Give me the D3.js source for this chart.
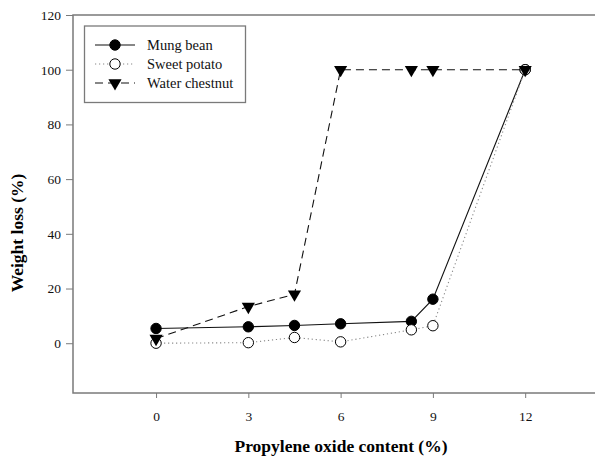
<!DOCTYPE html>
<html>
<head>
<meta charset="utf-8">
<script src="https://cdn.jsdelivr.net/npm/d3@7"></script>
<style>
  body { margin: 0; background: #fff; }
  svg { display: block; }
  svg text { font-family: "Liberation Serif", "Times New Roman", "DejaVu Serif", serif !important; }
</style>
</head>
<body>
<svg width="595" height="459"></svg>
<script>
// propylene oxide content (%)
const xValues = [0, 3, 4.5, 6, 8.3, 9, 12];
const mungBean = [5.4, 6.0, 6.5, 7.1, 8.0, 16.1, 100];
const sweetPotato = [0, 0.2, 2.1, 0.5, 4.9, 6.4, 100];
const waterChestnut = [1.7, 13.4, 17.9, 100, 100, 100, 100];
const seriesNames = ['Mung bean', 'Sweet potato', 'Water chestnut'];
const xTicks = [0, 3, 6, 9, 12];
const yTicks = [0, 20, 40, 60, 80, 100, 120];

const svg = d3.select('svg');
const [plotLeft, plotTop, plotBottom] = [73, 15, 393];

const x = d3.scaleLinear().domain([-2.7, 14.27]).range([plotLeft, 595]);
const y = d3.scaleLinear().domain([-18.2, 120]).range([plotBottom, plotTop]);

const axisColor = '#7a7a7a';

// frame (right side runs off the picture)
svg.append('rect')
  .attr('x', plotLeft).attr('y', plotTop)
  .attr('width', 540).attr('height', plotBottom - plotTop)
  .attr('fill', 'none')
  .attr('stroke', axisColor)
  .attr('stroke-width', 1.5);

const yAxis = svg.append('g')
  .attr('transform', `translate(${plotLeft},0)`)
  .call(d3.axisLeft(y).tickValues(yTicks).tickSize(7).tickSizeOuter(0).tickPadding(5));
const xAxis = svg.append('g')
  .attr('transform', `translate(0,${plotBottom})`)
  .call(d3.axisBottom(x).tickValues(xTicks).tickSize(5).tickSizeOuter(0).tickPadding(13));

[xAxis, yAxis].forEach(a => {
  a.select('.domain').remove();
  a.attr('font-family', null);
  a.selectAll('line').attr('stroke', axisColor);
  a.selectAll('text')
    .attr('fill', '#111')
    .style('font-size', '13.5px');
});

// axis titles
svg.append('text')
  .attr('x', 341).attr('y', 452)
  .attr('text-anchor', 'middle')
  .style('font-weight', 'bold')
  .style('font-size', '17.5px')
  .text('Propylene oxide content (%)');

svg.append('text')
  .attr('transform', 'translate(23,233) rotate(-90)')
  .attr('text-anchor', 'middle')
  .style('font-weight', 'bold')
  .style('font-size', '17.5px')
  .text('Weight loss (%)');

const styles = [
  { data: mungBean, stroke: '#111', dash: null, marker: 'circle', fill: '#000' },
  { data: sweetPotato, stroke: '#888', dash: '1.2,2.8', marker: 'circle', fill: '#fff' },
  { data: waterChestnut, stroke: '#111', dash: '8,5', marker: 'triangle', fill: '#000' }
];

const line = d3.line()
  .x((d, i) => x(xValues[i]))
  .y(d => y(d));

styles.forEach(s => {
  svg.append('path')
    .datum(s.data)
    .attr('d', line)
    .attr('fill', 'none')
    .attr('stroke', s.stroke)
    .attr('stroke-width', 1.1)
    .attr('stroke-dasharray', s.dash);
});

const triSym = d3.symbol().type(d3.symbolTriangle).size(75);

function drawMarker(g, s, cx, cy) {
  if (s.marker === 'circle') {
    g.append('circle')
      .attr('cx', cx).attr('cy', cy).attr('r', 5.2)
      .attr('fill', s.fill)
      .attr('stroke', '#000')
      .attr('stroke-width', 1);
  } else {
    g.append('path')
      .attr('d', triSym())
      .attr('transform', `translate(${cx},${cy}) rotate(180)`)
      .attr('fill', '#000');
  }
}

const markers = svg.append('g');
styles.forEach(s => {
  s.data.forEach((v, i) => drawMarker(markers, s, x(xValues[i]), y(v)));
});

// legend
const legend = svg.append('g');
legend.append('rect')
  .attr('x', 84.5).attr('y', 26)
  .attr('width', 161).attr('height', 76.5)
  .attr('fill', '#fff')
  .attr('stroke', axisColor)
  .attr('stroke-width', 1.3);

const legendY = d3.scalePoint().domain(seriesNames).range([45, 83]);
seriesNames.forEach((name, i) => {
  const s = styles[i];
  const ly = legendY(name);
  legend.append('line')
    .attr('x1', 95).attr('x2', 135)
    .attr('y1', ly).attr('y2', ly)
    .attr('stroke', s.stroke)
    .attr('stroke-width', 1.1)
    .attr('stroke-dasharray', s.dash);
  drawMarker(legend, s, 115, ly);
  legend.append('text')
    .attr('x', 147).attr('y', ly)
    .attr('dy', '0.35em')
    .style('font-size', '14.5px')
    .attr('fill', '#111')
    .text(name);
});
</script>
</body>
</html>
